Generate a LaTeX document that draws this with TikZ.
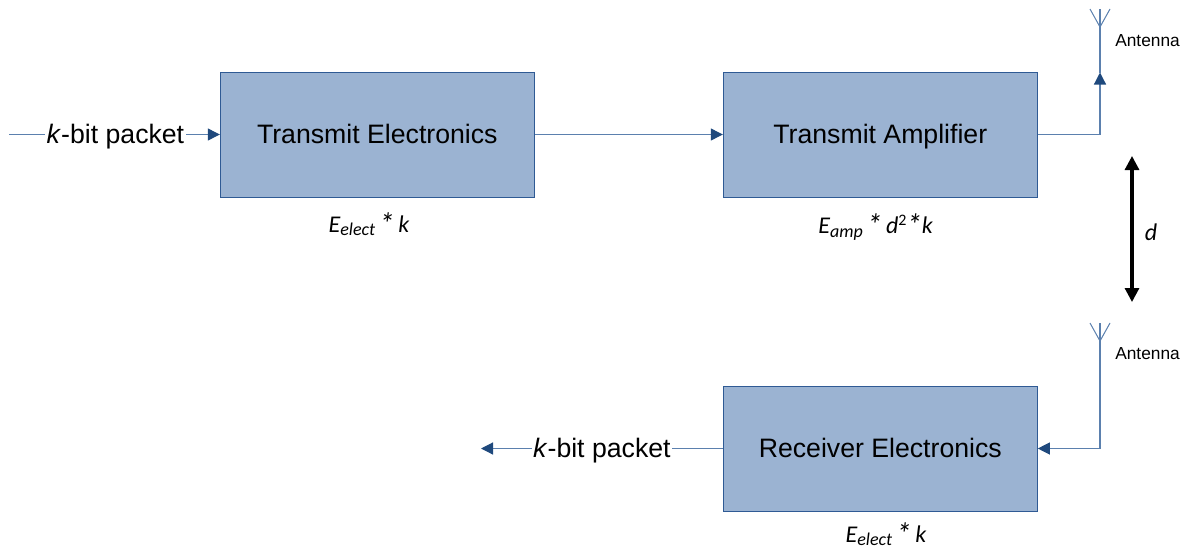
\documentclass[tikz,border=0pt]{standalone}
\usepackage{fontspec}
\setmainfont{Liberation Sans}
\newfontfamily\carlitofont{Carlito}
\usetikzlibrary{arrows.meta}
\definecolor{boxfill}{HTML}{9BB3D2}
\definecolor{boxline}{HTML}{2F5A94}
\definecolor{wire}{HTML}{5B80AE}
\definecolor{tip}{HTML}{1F497D}
\newcommand{\subtxt}[1]{\raisebox{-0.28ex}{\fontsize{13.5}{14}\selectfont #1}}
\newcommand{\suptxt}[1]{\raisebox{0.75ex}{\fontsize{12}{14}\selectfont\upshape #1}}
\newcommand{\astx}{\raisebox{-0.15ex}{\fontsize{23}{24}\selectfont *}}
\tikzset{
  x=0.75pt,y=-0.75pt,
  blockbox/.style={draw=boxline,fill=boxfill,line width=0.75pt,minimum width=235.5pt,minimum height=93.75pt,inner sep=0pt,font=\fontsize{20}{22}\selectfont,text=black,text height=16pt,text depth=3pt},
  wireline/.style={draw=wire,line width=0.9pt},
  wirearrow/.style={wireline,-{Triangle[length=9pt,width=9pt,color=tip]}},
  packetlabel/.style={fill=white,inner xsep=1pt,inner ysep=0pt,font=\fontsize{20}{22}\selectfont,text height=16pt,text depth=3pt},
  costlabel/.style={font=\carlitofont\itshape\fontsize{18}{20}\selectfont},
  antlabel/.style={font=\fontsize{13}{14}\selectfont,anchor=west,inner sep=0pt},
  thickarrow/.style={draw=black,line width=2.3pt,{Triangle[length=10.5pt,width=10.5pt]}-{Triangle[length=10.5pt,width=10.5pt]}},
}
\begin{document}
\begin{tikzpicture}
\useasboundingbox (0,0) rectangle (1189,550);
\node[blockbox] (te) at (377.3,134.5) {Transmit Electronics};
\node[blockbox] (ta) at (880.3,134.5) {Transmit Amplifier};
\node[blockbox] (re) at (880.3,448.5) {Receiver Electronics};
\coordinate (in) at (9,134.5);
\coordinate (out) at (481,448.5);
\coordinate (a1) at (1100,9);
\coordinate (a1base) at (1100,27);
\coordinate (a1l) at (1090,9);
\coordinate (a1r) at (1110,9);
\coordinate (a1tip) at (1100,72.5);
\coordinate (a1turn) at (1100,134.5);
\coordinate (a2) at (1100,323);
\coordinate (a2base) at (1100,341);
\coordinate (a2l) at (1090,323);
\coordinate (a2r) at (1110,323);
\coordinate (a2turn) at (1100,448.5);
\coordinate (d1) at (1132,156);
\coordinate (d2) at (1132,302);
% connectors
\draw[wirearrow] (in) -- (te.west) node[pos=0.505,packetlabel,text=black] (pk1) {\textit{k}-bit packet};
\draw[wirearrow] (te.east) -- (ta.west);
\draw[wirearrow] (ta.east) -- (a1turn) -- (a1tip);
\draw[wireline] (a1tip) -- (a1);
\draw[wireline,line width=0.75pt] (a1l) -- (a1base) -- (a1r);
\draw[wireline,line width=0.75pt] (a2l) -- (a2base) -- (a2r);
\draw[wireline] (a2) -- (a2turn);
\draw[wirearrow] (a2turn) -- (re.east);
\draw[wirearrow] (re.west) -- (out) node[pos=0.50,packetlabel,text=black] (pk2) {\textit{k}-bit packet};
\draw[thickarrow] (d1) -- (d2);
% labels
\node[antlabel] (ant1) at (1115,41) {Antenna};
\node[antlabel] (ant2) at (1115,354) {Antenna};
\node[costlabel] (c1) at (369,224) {E\subtxt{elect}\,\astx\,k};
\node[costlabel] (c2) at (875.5,227) {E\subtxt{amp}\,\astx\,d\suptxt{2}\astx k};
\node[costlabel] (c3) at (886,534) {E\subtxt{elect}\,\astx\,k};
\node[costlabel] (dl) at (1151,232) {d};
\end{tikzpicture}
\end{document}
